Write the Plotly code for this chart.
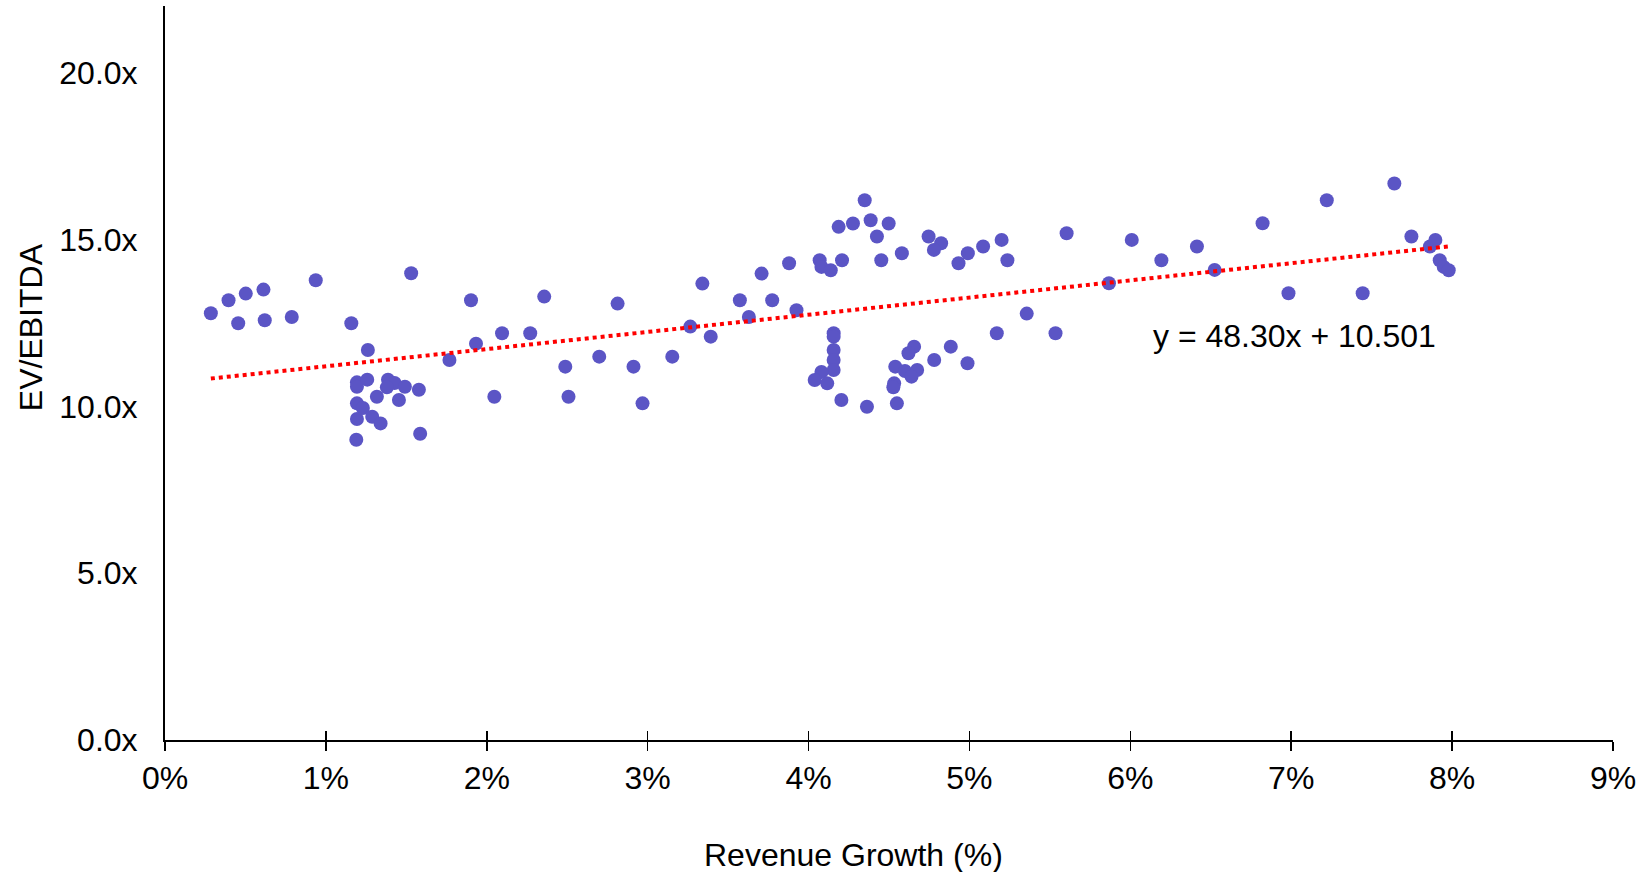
import numpy as np
import plotly.graph_objects as go

# Revenue growth (%) and EV/EBITDA (x)
revenue_growth = [
    0.285, 0.395, 0.455, 0.502, 0.612, 0.620, 0.788, 0.937, 1.158, 1.261, 1.530,
    1.193, 1.193, 1.257, 1.386, 1.427, 1.379, 1.491, 1.578, 1.317, 1.454, 1.193,
    1.230, 1.193, 1.288, 1.340, 1.189, 1.586,
    1.768, 1.902, 1.933, 2.047, 2.095, 2.270, 2.357, 2.488, 2.508, 2.699, 2.813,
    2.912, 2.968, 3.153, 3.265, 3.340, 3.392, 3.573, 3.629, 3.708, 3.774, 3.879,
    3.925, 4.069, 4.080, 4.138, 4.208, 4.187, 4.276, 4.349, 4.386, 4.498, 4.425,
    4.452, 4.580, 4.746, 4.824, 4.779, 4.990, 4.932, 5.085, 5.200, 5.236, 5.356,
    5.170, 4.988, 4.884, 4.781,
    4.156, 4.156, 4.156, 4.156, 4.156,
    4.080, 4.038, 4.116, 4.204, 4.363, 4.549, 4.656, 4.621, 4.539, 4.599, 4.675,
    4.640, 4.532, 4.527,
    5.535, 5.604, 5.867, 6.009, 6.193, 6.414, 6.524, 6.822, 6.983, 7.221, 7.444,
    7.641, 7.747, 7.862, 7.896, 7.923, 7.948, 7.979,
]
ev_ebitda = [
    12.79, 13.18, 12.49, 13.38, 13.50, 12.58, 12.68, 13.78, 12.49, 11.69, 13.99,
    10.72, 10.59, 10.80, 10.80, 10.70, 10.57, 10.59, 10.50, 10.29, 10.19, 10.09,
    9.95, 9.62, 9.69, 9.49, 9.00, 9.18,
    11.39, 13.18, 11.88, 10.29, 12.19, 12.19, 13.29, 11.19, 10.29, 11.49, 13.08,
    11.19, 10.09, 11.49, 12.39, 13.68, 12.09, 13.18, 12.68, 13.98, 13.18, 14.29,
    12.88, 14.38, 14.18, 14.08, 14.38, 15.38, 15.48, 16.18, 15.58, 15.48, 15.09,
    14.38, 14.59, 15.09, 14.89, 14.69, 14.59, 14.29, 14.79, 14.99, 14.38, 12.78,
    12.19, 11.29, 11.79, 11.39,
    12.19, 12.09, 11.69, 11.39, 11.09,
    11.03, 10.79, 10.69, 10.19, 9.99, 10.09, 11.79, 11.59, 11.19, 11.06, 11.09,
    10.89, 10.69, 10.57,
    12.19, 15.19, 13.69, 14.99, 14.38, 14.79, 14.09, 15.49, 13.39, 16.18, 13.39,
    16.68, 15.09, 14.79, 14.99, 14.38, 14.18, 14.08,
]
x_ticks = [0, 1, 2, 3, 4, 5, 6, 7, 8, 9]
y_ticks = [0, 5, 10, 15, 20]
equation_label = "y = 48.30x + 10.501"

FONT = "Liberation Sans, Arial, sans-serif"
FS = 32

# Linear trendline fitted from the scatter data, spanning the data range
xs = np.array(revenue_growth)
ys = np.array(ev_ebitda)
slope, intercept = np.polyfit(xs, ys, 1)
trend_x = [xs.min(), xs.max()]
trend_y = [slope * v + intercept for v in trend_x]

fig = go.Figure()
fig.add_trace(go.Scatter(
    x=revenue_growth, y=ev_ebitda, mode="markers",
    marker=dict(size=14, color="#5B55C5", line=dict(width=0)),
    showlegend=False, hoverinfo="skip",
))
fig.add_trace(go.Scatter(
    x=trend_x, y=trend_y, mode="lines",
    line=dict(color="#FF0000", width=4, dash="dot"),
    showlegend=False, hoverinfo="skip",
))
# helper (empty) trace for the overlay axis carrying the inner tick halves
fig.add_trace(go.Scatter(x=[None], y=[None], xaxis="x2", yaxis="y",
                         showlegend=False, hoverinfo="skip"))

fig.update_layout(
    width=1642, height=872,
    margin=dict(l=165, r=27, t=6, b=132),
    paper_bgcolor="white", plot_bgcolor="white",
    font=dict(family=FONT, size=FS, color="black"),
    xaxis=dict(
        range=[0, 9], tickvals=x_ticks, ticktext=[f"{v}%" for v in x_ticks],
        showgrid=False, zeroline=False, showline=True, linecolor="black",
        linewidth=2, ticks="outside", ticklen=9, tickwidth=1.5, tickcolor="black",
        tickfont=dict(family=FONT, size=FS, color="black"),
        fixedrange=True,
    ),
    xaxis2=dict(
        range=[0, 9], overlaying="x", side="bottom", tickvals=x_ticks[1:],
        showticklabels=False, showgrid=False, zeroline=False, showline=False,
        ticks="inside", ticklen=9, tickwidth=1.5, tickcolor="black",
        anchor="y",
    ),
    yaxis=dict(
        range=[0, 22], tickvals=y_ticks, ticktext=[f"{v:.1f}x" for v in y_ticks],
        showgrid=False, zeroline=False, showline=True, linecolor="black",
        linewidth=2, ticks="", ticklabelstandoff=19,
        tickfont=dict(family=FONT, size=FS, color="black"),
        fixedrange=True,
    ),
    annotations=[
        dict(text="Revenue Growth (%)", xref="paper", yref="paper",
             x=0.4755, y=-0.1567, xanchor="center", yanchor="middle",
             showarrow=False, font=dict(family=FONT, size=FS, color="black")),
        dict(text="EV/EBITDA", xref="paper", yref="paper",
             x=-0.0924, y=0.5627, xanchor="center", yanchor="middle",
             textangle=-90, showarrow=False,
             font=dict(family=FONT, size=FS, color="black")),
        dict(text=equation_label, xref="x", yref="y",
             x=6.127, y=12.10, xanchor="left", yanchor="middle",
             showarrow=False, font=dict(family=FONT, size=FS, color="black")),
    ],
)

fig.write_html(
    "out.html",
    config={"displayModeBar": False, "staticPlot": True},
    post_script="document.body.style.margin='0';document.body.style.overflow='hidden';",
)
